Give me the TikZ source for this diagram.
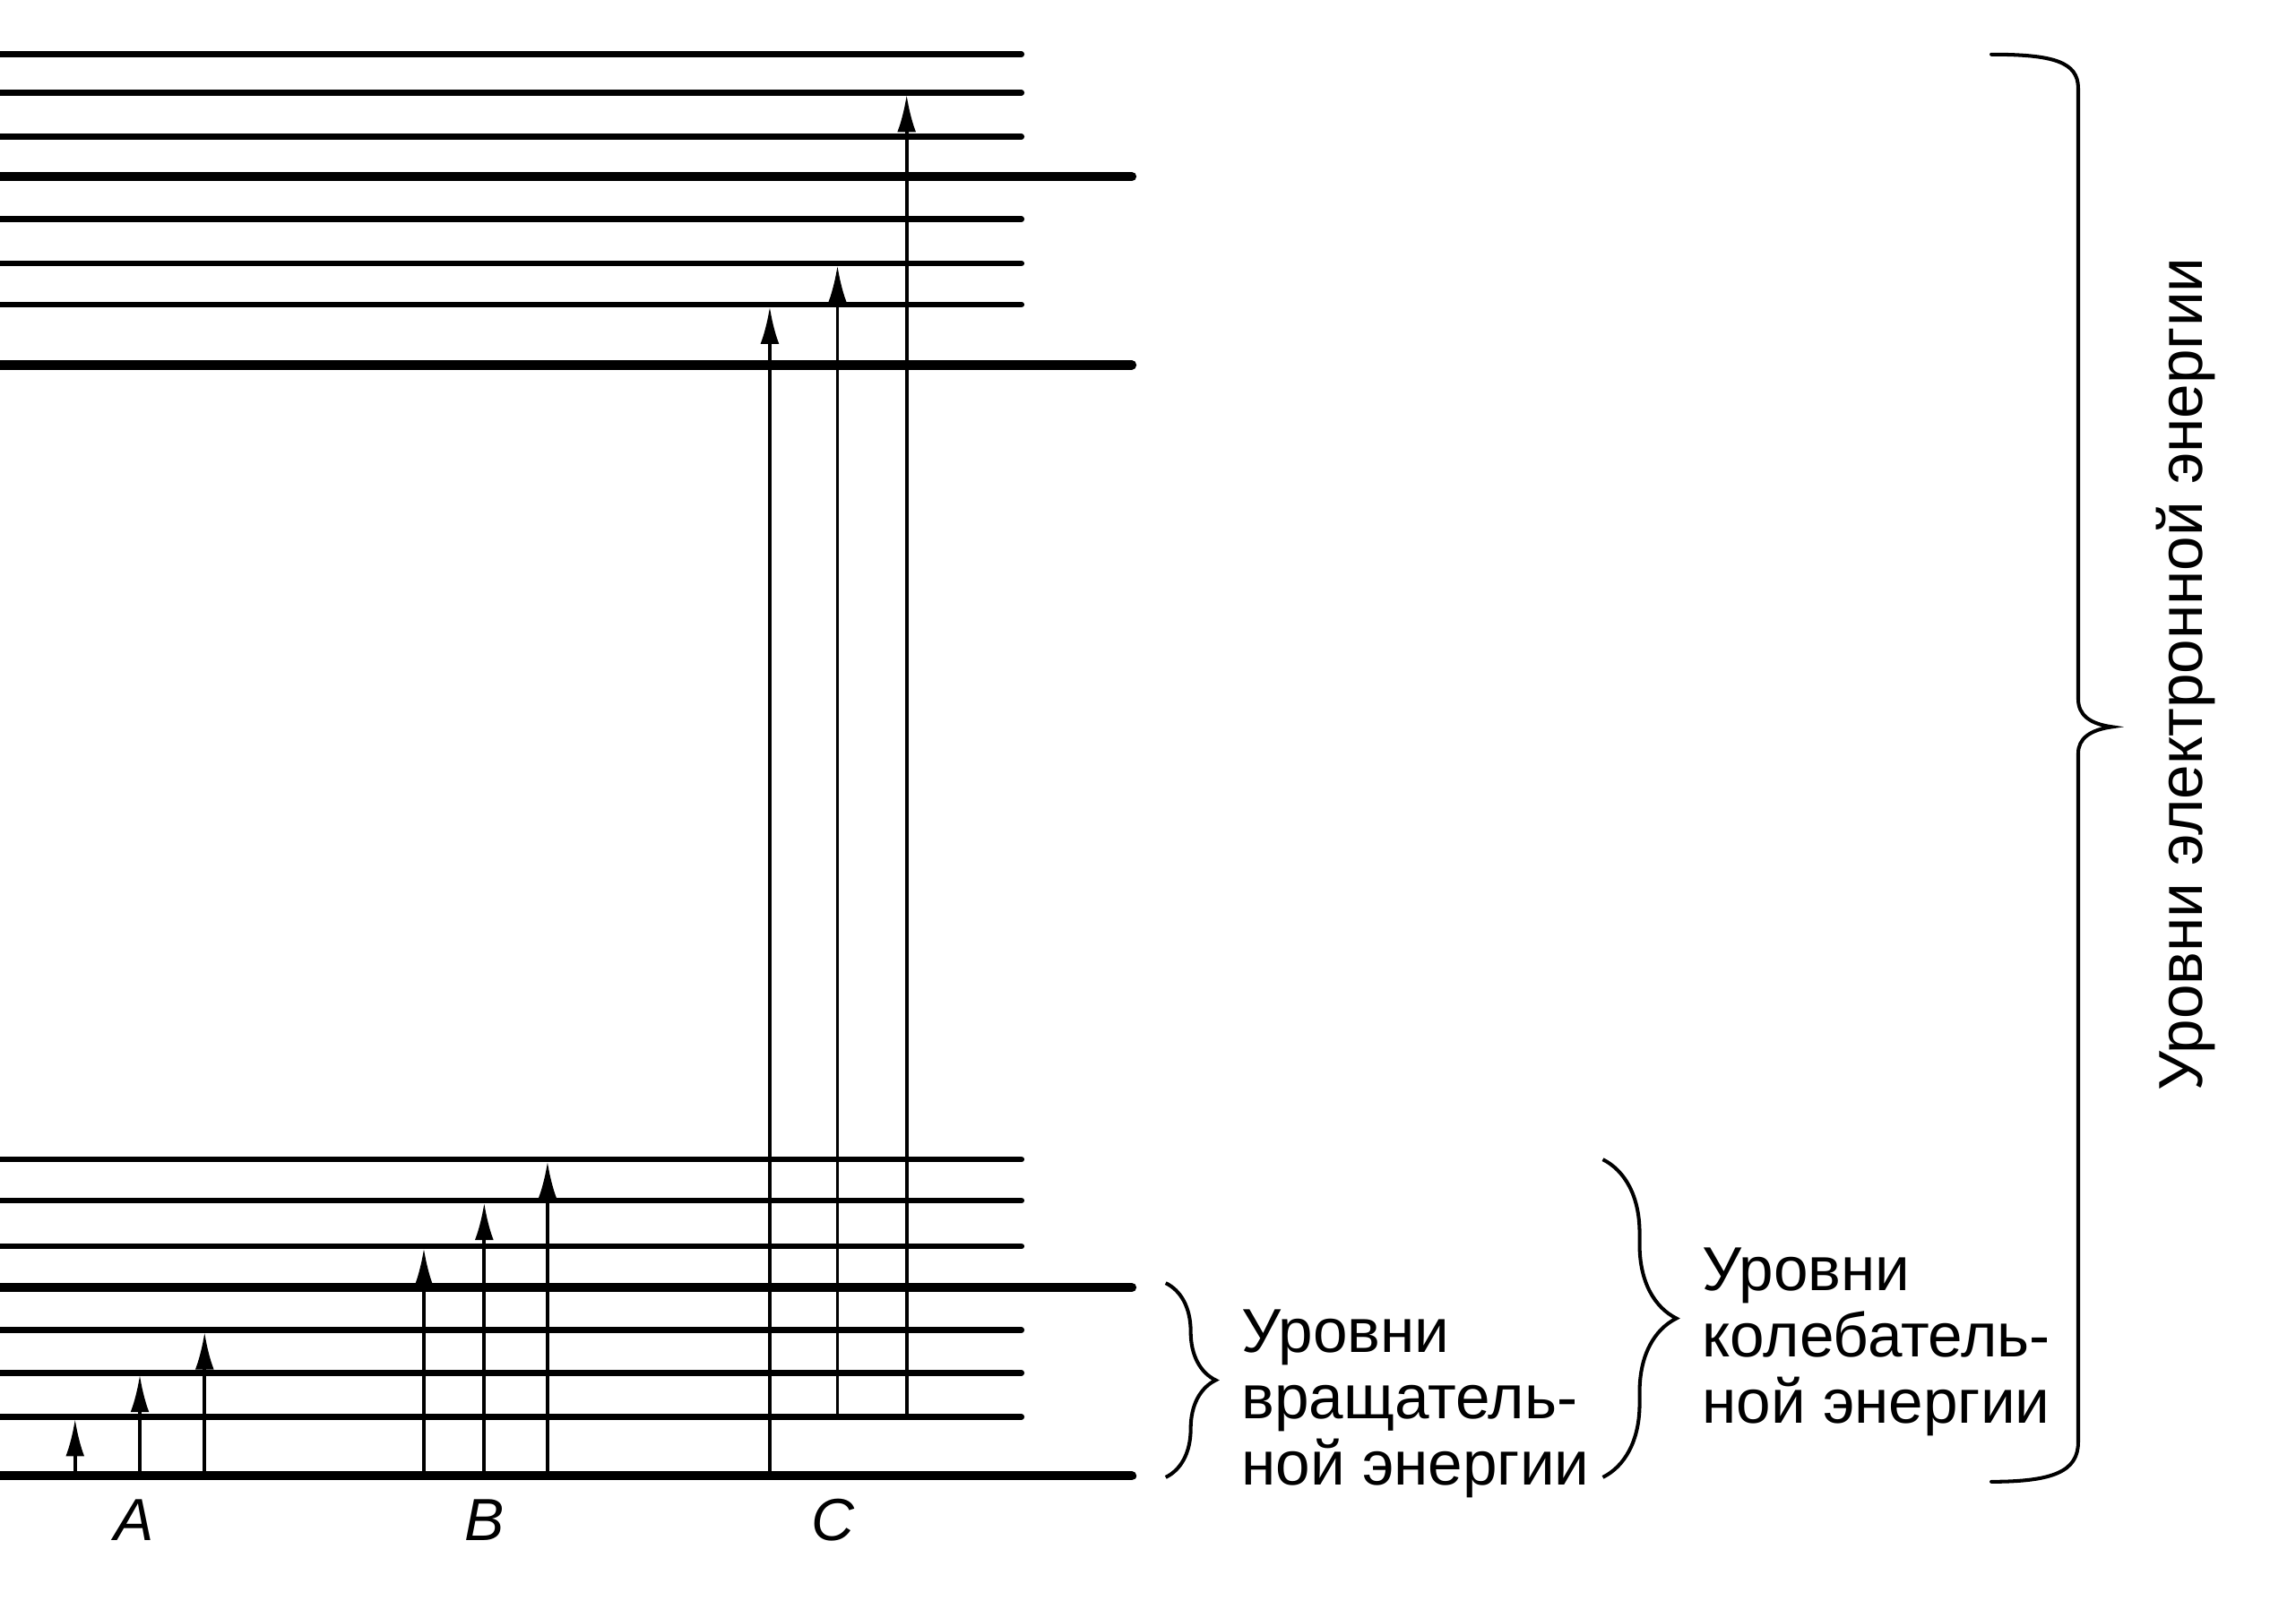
\documentclass[tikz,border=0pt]{standalone}
\usepackage{fontspec}
\setmainfont{Liberation Sans}
\usetikzlibrary{arrows.meta,decorations.pathreplacing}

\tikzset{
	sublevel/.style={line width=1.15pt, line cap=round},
	mainlevel/.style={line width=1.8pt, line cap=round},
	trans/.style={line width=0.65pt, shorten >=0.4pt, -{Latex[length=7.2pt,width=3.6pt]}},
	curly/.style={decorate, decoration={brace, amplitude=#1}, line width=0.7pt},
	bracepath/.style={line width=0.7pt, line cap=round},
	letter/.style={font=\fontsize{11.5}{12}\selectfont\itshape},
}

\begin{document}
\begin{tikzpicture}[font=\fontsize{12}{12.8}\selectfont]
	\useasboundingbox (0,0) rectangle (15.6,-10.88);
	% lower and upper electronic states
	\foreach \n/\y/\s/\e in {0/10.03/mainlevel/7.69, 1/9.63/sublevel/6.94, 2/9.33/sublevel/6.94, 3/9.04/sublevel/6.94,
		4/8.75/mainlevel/7.69, 5/8.47/sublevel/6.94, 6/8.16/sublevel/6.94, 7/7.88/sublevel/6.94}
	{
		\coordinate (g\n) at (0,-\y);
		\draw[\s] (-0.2,-\y) -- (\e,-\y);
	}
	\foreach \n/\y/\s/\e in {0/2.48/mainlevel/7.69, 1/2.07/sublevel/6.94, 2/1.79/sublevel/6.94, 3/1.49/sublevel/6.94,
		4/1.20/mainlevel/7.69, 5/0.93/sublevel/6.94, 6/0.63/sublevel/6.94, 7/0.37/sublevel/6.94}
	{
		\coordinate (e\n) at (0,-\y);
		\draw[\s] (-0.2,-\y) -- (\e,-\y);
	}
	% transitions
	\foreach \x/\a/\b in {0.51/g0/g1, 0.95/g0/g2, 1.39/g0/g3,
		2.88/g0/g5, 3.29/g0/g6, 3.72/g0/g7,
		5.23/g0/e1, 5.69/g1/e2, 6.16/g1/e6}
	\draw[trans] ([xshift=\x cm]\a) -- ([xshift=\x cm]\b);
	\node[letter] (labA) at (0.91,-10.33) {A};
	\node[letter] (labB) at (3.29,-10.33) {B};
	\node[letter] (labC) at (5.66,-10.33) {C};
	% braces
	\draw[curly=0.34cm] (7.92,-8.72) -- (7.92,-10.04);
	\draw[curly=0.50cm] (10.89,-7.88) -- (10.89,-10.04);
	\draw[bracepath] (13.53,-0.37) .. controls (13.95,-0.37) and (14.12,-0.42) .. (14.12,-0.60)
		-- (14.12,-4.75) .. controls (14.12,-4.86) and (14.20,-4.92) .. (14.35,-4.94)
		.. controls (14.20,-4.96) and (14.12,-5.02) .. (14.12,-5.12)
		-- (14.12,-9.80) .. controls (14.12,-10.00) and (13.95,-10.07) .. (13.53,-10.07);
	\node[anchor=west, align=left, inner sep=0] (rot) at (8.43,-9.54) {Уровни\\вращатель-\\ной энергии};
	\node[anchor=west, align=left, inner sep=0] (vib) at (11.56,-9.12) {Уровни\\колебатель-\\ной энергии};
	\node[rotate=90] (el) at (14.85,-4.58) {Уровни электронной энергии};
\end{tikzpicture}
\end{document}
